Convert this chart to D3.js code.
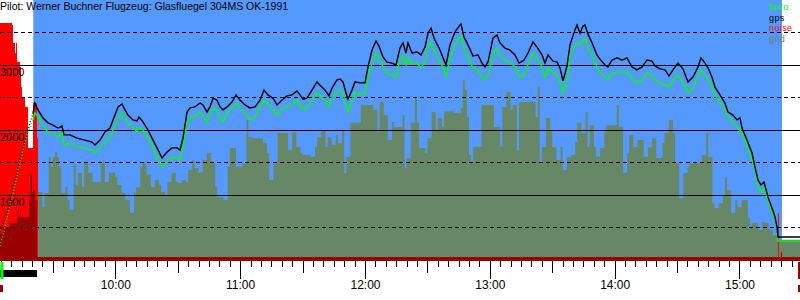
<!DOCTYPE html>
<html><head><meta charset="utf-8">
<script src="https://cdn.jsdelivr.net/npm/d3@7"></script>
<style>
body{margin:0;background:#fff}
svg{display:block}
text{font-family:"Liberation Sans",Arial,sans-serif}
</style>
</head><body>
<svg id="c" width="800" height="300"></svg>
<script>
// ---------------- data ----------------
const title = "Pilot: Werner Buchner Flugzeug: Glasfluegel 304MS OK-1991";
const viewStart = "09:04:35", viewEnd = "15:29:05";
const flightStart = "09:20:35", flightEnd = "15:20:25";
const releaseTime = "09:20:27";

const fixTimes = ["09:04:35","09:06:02","09:07:57","09:09:24","09:10:50","09:12:45","09:14:12","09:15:38","09:17:34","09:19:00",
"09:20:27","09:21:24","09:22:51","09:25:15","09:27:39","09:30:04","09:32:28","09:34:23","09:35:21","09:38:14",
"09:41:36","09:45:26","09:48:48","09:50:15","09:52:39","09:55:03","09:57:27","09:58:54","10:01:18","10:03:13",
"10:04:40","10:06:06","10:08:30","10:10:26","10:11:23","10:13:19","10:15:43","10:18:07","10:20:03","10:22:27",
"10:24:51","10:27:15","10:29:39","10:31:06","10:32:32","10:34:28","10:35:54","10:38:18","10:40:43","10:42:09",
"10:44:04","10:45:31","10:46:57","10:48:53","10:50:19","10:51:46","10:53:41","10:56:05","10:58:01","10:59:56",
"11:02:20","11:04:44","11:07:09","11:09:33","11:11:28","11:13:23","11:15:48","11:17:43","11:20:07","11:22:31",
"11:24:55","11:27:20","11:28:46","11:30:13","11:32:08","11:34:32","11:36:56","11:38:23","11:40:47","11:42:42",
"11:44:09","11:46:33","11:48:00","11:49:26","11:50:53","11:51:50","11:53:46","11:55:12","11:57:36","12:00:01",
"12:01:27","12:03:23","12:05:18","12:06:44","12:08:40","12:10:35","12:12:59","12:14:55","12:16:50","12:18:16",
"12:19:43","12:20:41","12:22:36","12:25:00","12:26:55","12:28:51","12:30:17","12:31:44","12:33:10","12:36:03",
"12:37:59","12:38:56","12:40:52","12:43:16","12:45:40","12:46:09","12:47:35","12:49:31","12:51:55","12:54:19",
"12:56:15","12:57:41","12:59:08","13:01:32","13:03:27","13:04:54","13:07:18","13:09:42","13:12:06","13:14:01",
"13:16:26","13:18:21","13:20:45","13:22:41","13:25:05","13:26:31","13:27:58","13:30:22","13:32:17","13:33:44",
"13:35:10","13:37:06","13:38:32","13:40:56","13:41:54","13:43:21","13:44:47","13:45:45","13:47:11","13:49:07",
"13:51:31","13:52:57","13:55:22","13:56:48","13:58:43","14:01:08","14:03:32","14:05:56","14:08:20","14:10:44",
"14:13:08","14:15:33","14:17:57","14:19:23","14:21:48","14:24:12","14:26:07","14:28:02","14:30:27","14:32:51",
"14:35:15","14:37:39","14:40:03","14:41:30","14:43:25","14:44:52","14:46:47","14:48:14","14:50:38","14:53:02",
"14:54:28","14:56:53","14:58:48","15:00:15","15:01:12","15:03:36","15:06:01","15:07:27","15:08:54","15:10:20",
"15:11:47","15:13:42","15:15:37","15:17:04","15:18:01","15:18:30","15:24:16","15:29:05"];

const gpsAlt = [430,570,725,925,1125,1340,1540,1740,1925,2110,
2260,2415,2310,2185,2110,2075,2030,2060,1925,1925,
1875,1845,1815,1770,1845,1970,2030,2155,2355,2400,
2310,2230,2155,2140,2200,2125,2000,1845,1725,1570,
1660,1725,1725,1690,1875,2275,2340,2355,2415,2385,
2275,2355,2490,2460,2355,2310,2355,2430,2540,2460,
2385,2340,2355,2460,2615,2540,2490,2385,2460,2525,
2540,2600,2540,2475,2490,2615,2740,2690,2615,2525,
2645,2770,2785,2740,2570,2475,2615,2740,2725,2725,
2970,3230,3370,3290,3125,3045,3030,3000,3260,3340,
3185,3340,3185,3200,3155,3275,3490,3570,3415,3230,
3075,3000,3310,3510,3615,3630,3430,3310,3140,3155,
3030,2970,3045,3415,3460,3340,3260,3230,3155,3030,
3075,3185,3355,3275,3155,3030,3155,3060,3045,2955,
2755,2985,3310,3540,3615,3490,3600,3615,3475,3340,
3155,3090,3000,2970,3075,3110,3075,3110,2970,2925,
2970,3075,3060,2985,2940,2925,2830,2925,3030,2940,
2740,2815,2970,3110,3030,2955,2815,2660,2540,2415,
2275,2230,2155,2185,2030,1845,1645,1430,1230,1155,
1200,970,800,660,510,355,355,355];

const baroAlt = [215,385,645,845,1030,1290,1490,1690,1925,2030,
2155,2260,2200,2060,1970,1940,1890,1955,1770,1800,
1740,1725,1690,1645,1725,1815,1890,2000,2185,2260,
2185,2110,2045,1970,2030,2000,1890,1740,1585,1430,
1510,1585,1570,1540,1740,2110,2185,2215,2275,2230,
2110,2230,2340,2310,2185,2125,2260,2340,2415,2340,
2260,2155,2200,2355,2460,2415,2310,2230,2340,2355,
2385,2460,2385,2310,2340,2460,2570,2540,2460,2355,
2490,2585,2615,2570,2385,2275,2460,2585,2540,2570,
2815,3030,3185,3125,2970,2875,2845,2815,3075,3155,
3000,3110,3015,3030,2955,3045,3275,3355,3230,3045,
2925,2815,3110,3310,3430,3445,3260,3125,2955,2925,
2815,2770,2845,3185,3260,3125,3075,3045,2970,2815,
2845,3000,3185,3110,2970,2815,2955,2890,2845,2740,
2570,2740,3125,3310,3340,3310,3385,3415,3275,3155,
2970,2890,2815,2770,2875,2890,2875,2890,2800,2725,
2770,2875,2845,2770,2725,2690,2660,2770,2845,2740,
2570,2660,2815,2925,2845,2770,2660,2540,2430,2310,
2200,2110,2045,2000,1955,1770,1540,1385,1125,1045,
1110,925,740,615,460,290,290,290];

const gndTimes = ["09:23","09:25","09:26","09:28","09:29","09:30","09:31","09:32","09:33","09:34",
"09:36","09:37","09:38","09:40","09:41","09:42","09:44","09:45","09:47","09:49",
"09:53","09:55","09:57","10:00","10:01","10:03","10:05","10:07","10:09","10:10",
"10:12","10:13","10:15","10:17","10:19","10:21","10:22","10:24","10:25","10:27",
"10:29","10:30","10:32","10:34","10:35","10:37","10:38","10:40","10:41","10:42",
"10:44","10:46","10:48","10:49","10:52","10:54","10:55","10:58","11:01","11:03",
"11:04","11:06","11:11","11:13","11:14","11:16","11:18","11:23","11:25","11:27",
"11:29","11:30","11:34","11:36","11:37","11:39","11:41","11:42","11:44","11:46",
"11:47","11:49","11:50","11:51","11:53","11:58","12:04","12:06","12:07","12:09",
"12:11","12:13","12:14","12:18","12:19","12:20","12:22","12:24","12:25","12:26",
"12:29","12:30","12:32","12:34","12:35","12:37","12:38","12:43","12:46","12:47",
"12:48","12:49","12:50","12:51","12:52","12:56","13:02","13:05","13:06","13:08",
"13:10","13:11","13:13","13:14","13:22","13:23","13:24","13:25","13:27","13:29",
"13:30","13:32","13:34","13:35","13:37","13:39","13:41","13:42","13:44","13:46",
"13:47","13:48","13:50","13:51","13:53","13:55","13:56","14:01","14:02","14:04",
"14:06","14:07","14:09","14:11","14:14","14:16","14:18","14:20","14:23","14:24",
"14:26","14:28","14:29","14:31","14:33","14:35","14:36","14:42","14:44","14:45",
"14:47","14:48","14:50","14:52","14:53","14:54","14:56","14:58","14:59","15:01",
"15:04","15:05","15:06","15:09","15:11","15:12","15:14","15:16","15:18","15:30"];

const gndAlt = [1045,815,1030,1585,1430,1585,1660,1585,1430,1030,
1125,925,770,1460,1155,1340,1125,1490,1340,1200,
1510,1200,1340,1275,1155,1030,925,725,1030,1125,
1430,1490,1310,1125,1230,1155,1045,1000,1200,1340,
1200,1185,1230,1200,1385,1540,1415,1340,1355,1540,
1645,1490,1125,970,925,1430,1725,1430,1490,2155,
1890,1875,1800,1645,1230,1490,1955,1690,1970,1740,
1645,1615,1585,1740,1890,2000,1740,1890,1770,1925,
1800,2000,1340,1585,2110,2385,2310,1970,2430,2230,
1845,2125,2045,2230,1415,1570,2110,2490,2110,1725,
1645,1875,2275,2000,2185,2045,2290,2260,2340,2770,
2615,2200,1615,1510,1740,2385,2045,1740,2355,2585,
2310,2385,1690,2430,2200,2660,1490,1740,2185,2000,
1740,1540,1740,1385,1585,1615,1815,2110,1955,2275,
1740,2075,1740,1585,1725,1970,2075,2385,2045,1340,
1645,1925,1740,1845,1585,1740,1875,1570,1800,1955,
2155,1955,1490,955,1340,1430,1490,1615,1955,1585,
875,800,875,1000,1275,1075,725,925,815,925,
645,510,570,460,585,570,460,385,310,310];

const noiseTimes = ["09:04:35","09:06:02","09:09:24","09:10:21","09:10:50","09:11:48","09:12:16","09:12:45","09:13:14","09:14:12",
"09:14:41","09:15:10","09:16:36","09:18:03","09:18:31","09:19:00","09:19:58","09:20:27","09:21:24","09:22:22",
"09:22:51","15:18:30","15:18:59","15:19:57","15:20:26","15:29:05"];
const noisePeak = [912,912,912,904,835,797,835,762,762,743,
667,628,590,433,433,433,433,605,605,471,
15,184,15,15,15,15];
const noiseLevel = [107,130,146,146,146,146,146,195,169,195,
169,169,169,169,234,330,264,272,234,15,
15,15,15,34,15,15];

const gridAlt = [500,1000,1500,2000,2500,3000,3500];
const altLabels = [1000,2000,3000];
const legendNames = ["baro","gps","noise","gnd"];
const markers = {takeoff:"09:05:47", towEnd:"09:22:22", landing:"15:29:05"};

// ---------------- chart ----------------
const parse = d3.timeParse("%H:%M:%S");
const parseHM = d3.timeParse("%H:%M");
const W = 800;
const svg = d3.select("#c");
const colors = {baro:"#00ff00", gps:"#000000", noise:"#ff0000", noiseDark:"#990000", gnd:"#668866", sky:"#5599ff"};

const x = d3.scaleTime().domain([parse(viewStart), parse(viewEnd)]).range([0, W]);
const y = d3.scaleLinear().domain([0, 4000]).range([260, 0]);
const yn = d3.scaleLinear().domain([0, 1000]).range([261, 0]);

// sky (flight period)
svg.append("rect")
  .attr("x", x(parse(flightStart))).attr("y", 0)
  .attr("width", x(parse(flightEnd)) - x(parse(flightStart)))
  .attr("height", 261).attr("fill", colors.sky);

// ground
const gndData = gndTimes.map((t, i) => ({t: parseHM(t), v: gndAlt[i]}));
svg.append("path").datum(gndData)
  .attr("fill", colors.gnd)
  .attr("d", d3.area().curve(d3.curveStepAfter)
    .x(d => x(d.t)).y0(y(0)).y1(d => y(d.v)));

// noise
const noiseData = noiseTimes.map((t, i) => ({t: parse(t), p: noisePeak[i], l: noiseLevel[i]}));
svg.append("path").datum(noiseData).attr("fill", colors.noise)
  .attr("d", d3.area().curve(d3.curveStepAfter).x(d => x(d.t)).y0(yn(0)).y1(d => yn(d.p)));
svg.append("path").datum(noiseData).attr("fill", colors.noiseDark)
  .attr("d", d3.area().curve(d3.curveStepAfter).x(d => x(d.t)).y0(yn(0)).y1(d => yn(d.l)));

// grid
svg.append("g").selectAll("line").data(gridAlt).join("line")
  .attr("x1", 0).attr("x2", W)
  .attr("y1", d => Math.floor(y(d)) + 0.5).attr("y2", d => Math.floor(y(d)) + 0.5)
  .attr("stroke", "#000").attr("stroke-width", 1)
  .attr("stroke-dasharray", d => d % 1000 ? "4,3" : null)
  .attr("shape-rendering", "crispEdges");

svg.append("g").selectAll("text").data(altLabels).join("text")
  .attr("x", 0).attr("y", d => y(d) + 11)
  .attr("font-size", 11).attr("fill", "#000").text(d => d);

// altitude lines
const fixes = fixTimes.map((t, i) => ({t: parse(t), gps: gpsAlt[i], baro: baroAlt[i]}));
const rel = parse(releaseTime);
const before = fixes.filter(d => d.t <= rel), after = fixes.filter(d => d.t >= rel);
const mk = key => d3.line().x(d => x(d.t)).y(d => y(d[key]));
[["baro", colors.baro], ["gps", colors.gps]].forEach(([k, c]) => {
  svg.append("path").datum(before).attr("fill", "none").attr("stroke", c)
    .attr("stroke-width", 1.3).attr("stroke-dasharray", "1,2").attr("d", mk(k));
  svg.append("path").datum(after).attr("fill", "none").attr("stroke", c)
    .attr("stroke-width", 1.4).attr("stroke-linejoin", "miter").attr("d", mk(k));
});

// title
svg.append("text").attr("x", 0).attr("y", 10).attr("font-size", 10.5).attr("fill", "#000").text(title);

// legend
svg.append("g").selectAll("text").data(legendNames).join("text")
  .attr("x", 769).attr("y", (d, i) => 10 + i * 10.5)
  .attr("font-size", 9)
  .attr("letter-spacing", 0.4)
  .attr("fill", d => d === "baro" ? colors.baro : d === "gps" ? colors.gps : d === "noise" ? colors.noise : colors.gnd)
  .text(d => d);

// time axis
const fmt = d3.timeFormat("%H:%M");
const axis = d3.axisBottom(x).ticks(d3.timeMinute.every(5)).tickSize(6)
  .tickFormat(d => d.getMinutes() === 0 ? fmt(d) : "");
const ag = svg.append("g").attr("transform", "translate(0,261)").call(axis);
ag.select(".domain").remove();
ag.selectAll(".tick line").attr("stroke", "#000").attr("shape-rendering", "crispEdges")
  .attr("y2", d => d.getMinutes() === 0 ? 18 : d.getMinutes() === 30 ? 12 : 6);
ag.selectAll(".tick text").attr("y", 28).attr("dy", 0).attr("font-size", 12)
  .attr("font-family", "'Liberation Sans',Arial,sans-serif").attr("fill", "#000");

// event markers under axis
const xt = x(parse(markers.takeoff)), xe = x(parse(markers.towEnd)), xl = x(parse(markers.landing));
svg.append("rect").attr("x", 0).attr("y", 270).attr("width", xe).attr("height", 7).attr("fill", "#000");
svg.append("rect").attr("x", xt - 2).attr("y", 262).attr("width", 3).attr("height", 17).attr("fill", colors.baro);
svg.append("rect").attr("x", 0).attr("y", 285).attr("width", 3).attr("height", 7).attr("fill", colors.noiseDark);
svg.append("rect").attr("x", xl - 2).attr("y", 262).attr("width", 2).attr("height", 17).attr("fill", colors.noiseDark);
svg.append("rect").attr("x", xl - 2).attr("y", 285).attr("width", 2).attr("height", 7).attr("fill", colors.noiseDark);
</script>
</body></html>
